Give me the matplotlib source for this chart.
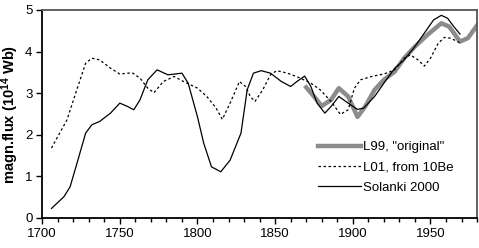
import matplotlib
matplotlib.use("Agg")
import matplotlib.pyplot as plt

plt.rcParams['font.family'] = ['Liberation Sans', 'DejaVu Sans']
plt.rcParams['mathtext.fontset'] = 'custom'
plt.rcParams['mathtext.rm'] = 'Liberation Sans'
plt.rcParams['mathtext.bf'] = 'Liberation Sans:bold'
plt.rcParams['mathtext.default'] = 'bf'

# L99, "original"
l99_years = [1870, 1875, 1880, 1886, 1891, 1897, 1903, 1908, 1914, 1920, 1927,
             1933, 1940, 1948, 1957, 1962, 1969, 1974, 1981]
l99_vals = [3.14, 2.92, 2.69, 2.84, 3.12, 2.92, 2.43, 2.68, 3.08, 3.32, 3.52,
            3.84, 4.12, 4.40, 4.68, 4.60, 4.24, 4.32, 4.68]

# L01, from 10Be
l01_years = [1706, 1716, 1723, 1728, 1732, 1737, 1744, 1750, 1758, 1763, 1768,
             1772, 1778, 1785, 1791, 1800, 1806, 1812, 1816, 1821, 1827, 1831,
             1834, 1837, 1842, 1847, 1851, 1858, 1865, 1873, 1879, 1886, 1892,
             1897, 1901, 1905, 1912, 1920, 1927, 1933, 1937, 1942, 1946, 1950,
             1955, 1959, 1963, 1969]
l01_vals = [1.68, 2.36, 3.16, 3.72, 3.84, 3.80, 3.60, 3.46, 3.49, 3.36, 3.12,
            3.01, 3.28, 3.40, 3.28, 3.12, 2.92, 2.64, 2.37, 2.76, 3.28, 3.16,
            2.92, 2.80, 3.08, 3.44, 3.54, 3.48, 3.38, 3.24, 3.08, 2.80, 2.49,
            2.60, 3.12, 3.32, 3.40, 3.46, 3.56, 3.84, 3.92, 3.80, 3.65, 3.84,
            4.20, 4.34, 4.32, 4.21]

# Solanki 2000
sol_years = [1706, 1714, 1718, 1723, 1728, 1732, 1737, 1744, 1750, 1755, 1759,
             1763, 1768, 1774, 1781, 1790, 1794, 1800, 1804, 1809, 1815, 1821,
             1828, 1832, 1836, 1841, 1847, 1854, 1860, 1864, 1869, 1873, 1877,
             1882, 1886, 1891, 1897, 1903, 1907, 1914, 1920, 1927, 1933, 1940,
             1946, 1952, 1957, 1961, 1965, 1969]
sol_vals = [0.23, 0.51, 0.75, 1.39, 2.04, 2.24, 2.32, 2.52, 2.76, 2.68, 2.60,
            2.84, 3.32, 3.56, 3.44, 3.48, 3.24, 2.43, 1.80, 1.23, 1.11, 1.39,
            2.04, 3.08, 3.48, 3.54, 3.48, 3.28, 3.16, 3.28, 3.41, 3.16, 2.76,
            2.52, 2.68, 2.92, 2.76, 2.61, 2.64, 2.92, 3.24, 3.60, 3.80, 4.12,
            4.44, 4.76, 4.87, 4.80, 4.60, 4.42]

fig = plt.figure(figsize=(4.79, 2.48), dpi=100)
ax = fig.add_axes([0.088, 0.121, 0.908, 0.839])

ax.plot(l99_years, l99_vals, color='#8c8c8c', lw=3.2, label='L99, "original"')
ax.plot(l01_years, l01_vals, color='black', lw=0.9, ls=(0, (2, 2)), label='L01, from 10Be')
ax.plot(sol_years, sol_vals, color='black', lw=0.9, label='Solanki 2000')

ax.set_xlim(1700, 1980)
ax.set_ylim(0, 5)
ax.set_xticks(range(1700, 1951, 50))
ax.set_xticks(range(1700, 1981, 10), minor=True)
ax.set_yticks(range(0, 6))
ax.tick_params(axis='both', labelsize=9.5, direction='out', length=4, width=1, pad=3)
ax.tick_params(axis='x', which='minor', length=3, width=1)

for s in ['left', 'bottom']:
    ax.spines[s].set_linewidth(1.3)
    ax.spines[s].set_color('black')
for s in ['top', 'right']:
    ax.spines[s].set_linewidth(1.3)
    ax.spines[s].set_color('#555555')

ax.set_ylabel('magn.flux (10$^{14}$ Wb)', fontsize=10.5, fontweight='bold', labelpad=3)

ax.legend(loc='lower right', frameon=False, fontsize=9.5, handlelength=3.3,
          handletextpad=0.15, labelspacing=0.6, borderpad=0.4,
          bbox_to_anchor=(0.974, 0.06))

fig.savefig('out.png', dpi=100)
